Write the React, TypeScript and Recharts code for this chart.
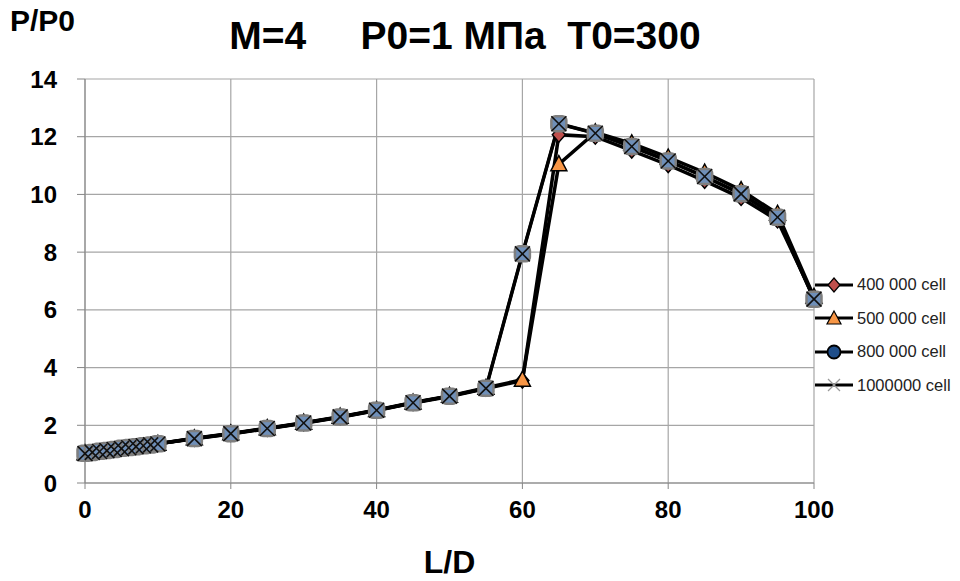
import React from "react";
import { LineChart, Line, XAxis, YAxis, CartesianGrid, Legend, Label } from "recharts";

const xCoarse = [0, 10, 15, 20, 25, 30, 35, 40, 45, 50, 55, 60, 65, 70, 75, 80, 85, 90, 95, 100];
const xFine = [0, 1, 2, 3, 4, 5, 6, 7, 8, 9, 10, 15, 20, 25, 30, 35, 40, 45, 50, 55, 60, 65, 70, 75, 80, 85, 90, 95, 100];

const y400 = [1.03, 1.36, 1.53, 1.7, 1.88, 2.07, 2.28, 2.51, 2.77, 3.0, 3.27, 3.55, 12.07, 12.0, 11.52, 11.02, 10.47, 9.88, 9.1, 6.42];
const y500 = [1.03, 1.36, 1.55, 1.72, 1.9, 2.09, 2.3, 2.53, 2.79, 3.02, 3.3, 3.58, 11.05, 12.15, 11.77, 11.28, 10.76, 10.15, 9.33, 6.45];
const y800 = [1.03, 1.06, 1.1, 1.13, 1.16, 1.2, 1.23, 1.26, 1.29, 1.32, 1.36, 1.54, 1.71, 1.89, 2.08, 2.29, 2.52, 2.78, 3.01, 3.28, 7.94, 12.45, 12.12, 11.66, 11.16, 10.62, 10.02, 9.21, 6.37];
const y1000 = [1.02, 1.06, 1.09, 1.12, 1.16, 1.19, 1.22, 1.26, 1.29, 1.32, 1.35, 1.54, 1.71, 1.89, 2.08, 2.29, 2.52, 2.78, 3.01, 3.28, 7.94, 12.45, 12.12, 11.66, 11.16, 10.62, 10.02, 9.21, 6.37];

const xTicks = [0, 20, 40, 60, 80, 100];
const yTicks = [0, 2, 4, 6, 8, 10, 12, 14];

const seriesNames = ["400 000 cell", "500 000 cell", "800 000 cell", "1000000 cell"];

const d400 = xCoarse.map((x, i) => ({ x, y: y400[i] }));
const d500 = xCoarse.map((x, i) => ({ x, y: y500[i] }));
const d800 = xFine.map((x, i) => ({ x, y: y800[i] }));
const d1000 = xFine.map((x, i) => ({ x, y: y1000[i] }));

const FONT = "'Liberation Sans Narrow', 'Liberation Sans', 'DejaVu Sans', sans-serif";

const Diamond = ({ cx, cy }: any) => (
  <polygon points={`${cx},${cy - 7.5} ${cx + 6.5},${cy} ${cx},${cy + 7.5} ${cx - 6.5},${cy}`} fill="#c0504d" stroke="#000" strokeWidth={1.5} />
);
const Triangle = ({ cx, cy }: any) => (
  <polygon points={`${cx},${cy - 8.5} ${cx + 8},${cy + 6.5} ${cx - 8},${cy + 6.5}`} fill="#f79646" stroke="#000" strokeWidth={1.5} />
);
const Circ = ({ cx, cy }: any) => (
  <rect x={cx - 7.5} y={cy - 7.5} width={15} height={15} rx={4} fill="#6f8fb8" stroke="#7f7f7f" strokeWidth={2.5} />
);
const Cross = ({ cx, cy }: any) => (
  <g stroke="#111" strokeWidth={1.6}>
    <line x1={cx - 7.5} y1={cy - 7.5} x2={cx + 7.5} y2={cy + 7.5} />
    <line x1={cx - 7.5} y1={cy + 7.5} x2={cx + 7.5} y2={cy - 7.5} />
  </g>
);

const legendIcons = [
  (cx: number, cy: number) => <polygon points={`${cx},${cy - 7} ${cx + 6},${cy} ${cx},${cy + 7} ${cx - 6},${cy}`} fill="#c0504d" stroke="#000" strokeWidth={1.2} />,
  (cx: number, cy: number) => <polygon points={`${cx},${cy - 7} ${cx + 7},${cy + 6} ${cx - 7},${cy + 6}`} fill="#f79646" stroke="#000" strokeWidth={1.2} />,
  (cx: number, cy: number) => <circle cx={cx} cy={cy} r={6.5} fill="#1f4e8a" stroke="#000" strokeWidth={1.8} />,
  (cx: number, cy: number) => (
    <g stroke="#999" strokeWidth={1.3}>
      <line x1={cx - 6} y1={cy - 6} x2={cx + 6} y2={cy + 6} />
      <line x1={cx - 6} y1={cy + 6} x2={cx + 6} y2={cy - 6} />
    </g>
  ),
];

const renderLegend = () => (
  <div style={{ fontFamily: FONT }}>
    {seriesNames.map((n, i) => (
      <div key={n} style={{ display: "flex", alignItems: "center", height: 33.5 }}>
        <svg width={42} height={18}>
          <line x1={2} y1={9} x2={40} y2={9} stroke="#000" strokeWidth={3} />
          {legendIcons[i](21, 9)}
        </svg>
        <span style={{ fontSize: 16.5, color: "#222", marginLeft: 2 }}>{n}</span>
      </div>
    ))}
  </div>
);

export default function App() {
  return (
    <div style={{ position: "absolute", left: 0, top: 0, width: 960, height: 581, background: "#fff" }}>
      <div style={{ position: "absolute", left: 10, top: 4, fontFamily: FONT, fontWeight: 700, fontSize: 30 }}>P/P0</div>
      <div style={{ position: "absolute", left: 0, width: 930, top: 14, textAlign: "center", fontFamily: FONT, fontWeight: 700, fontSize: 39, whiteSpace: "pre" }}>
        {"M=4     P0=1 МПа  T0=300"}
      </div>
      <LineChart width={960} height={581} margin={{ top: 79, right: 0, left: 0, bottom: 0 }}>
        <CartesianGrid stroke="#a6a6a6" strokeWidth={1.2} horizontalValues={yTicks} verticalValues={xTicks} />
        <XAxis
          type="number"
          dataKey="x"
          domain={[0, 100]}
          ticks={xTicks}
          height={98}
          tickSize={6}
          tickMargin={12}
          stroke="#868686"
          tick={{ fill: "#000", fontSize: 24, fontWeight: 700, fontFamily: FONT }}
        >
          <Label value="L/D" position="insideBottom" offset={8} style={{ fill: "#000", fontSize: 32, fontWeight: 700, fontFamily: FONT }} />
        </XAxis>
        <YAxis
          type="number"
          domain={[0, 14]}
          ticks={yTicks}
          width={85}
          tickSize={8}
          tickMargin={20}
          stroke="#868686"
          tick={{ fill: "#000", fontSize: 24, fontWeight: 700, fontFamily: FONT }}
        />
        <Legend layout="vertical" align="right" verticalAlign="top" content={renderLegend} wrapperStyle={{ left: 813, top: 268, width: 146 }} />
        <Line data={d400} dataKey="y" name={seriesNames[0]} stroke="#000" strokeWidth={3.5} dot={<Diamond />} isAnimationActive={false} />
        <Line data={d500} dataKey="y" name={seriesNames[1]} stroke="#000" strokeWidth={3.5} dot={<Triangle />} isAnimationActive={false} />
        <Line data={d800} dataKey="y" name={seriesNames[2]} stroke="#000" strokeWidth={3.5} dot={<Circ />} isAnimationActive={false} />
        <Line data={d1000} dataKey="y" name={seriesNames[3]} stroke="#000" strokeWidth={3} dot={<Cross />} isAnimationActive={false} />
      </LineChart>
    </div>
  );
}
